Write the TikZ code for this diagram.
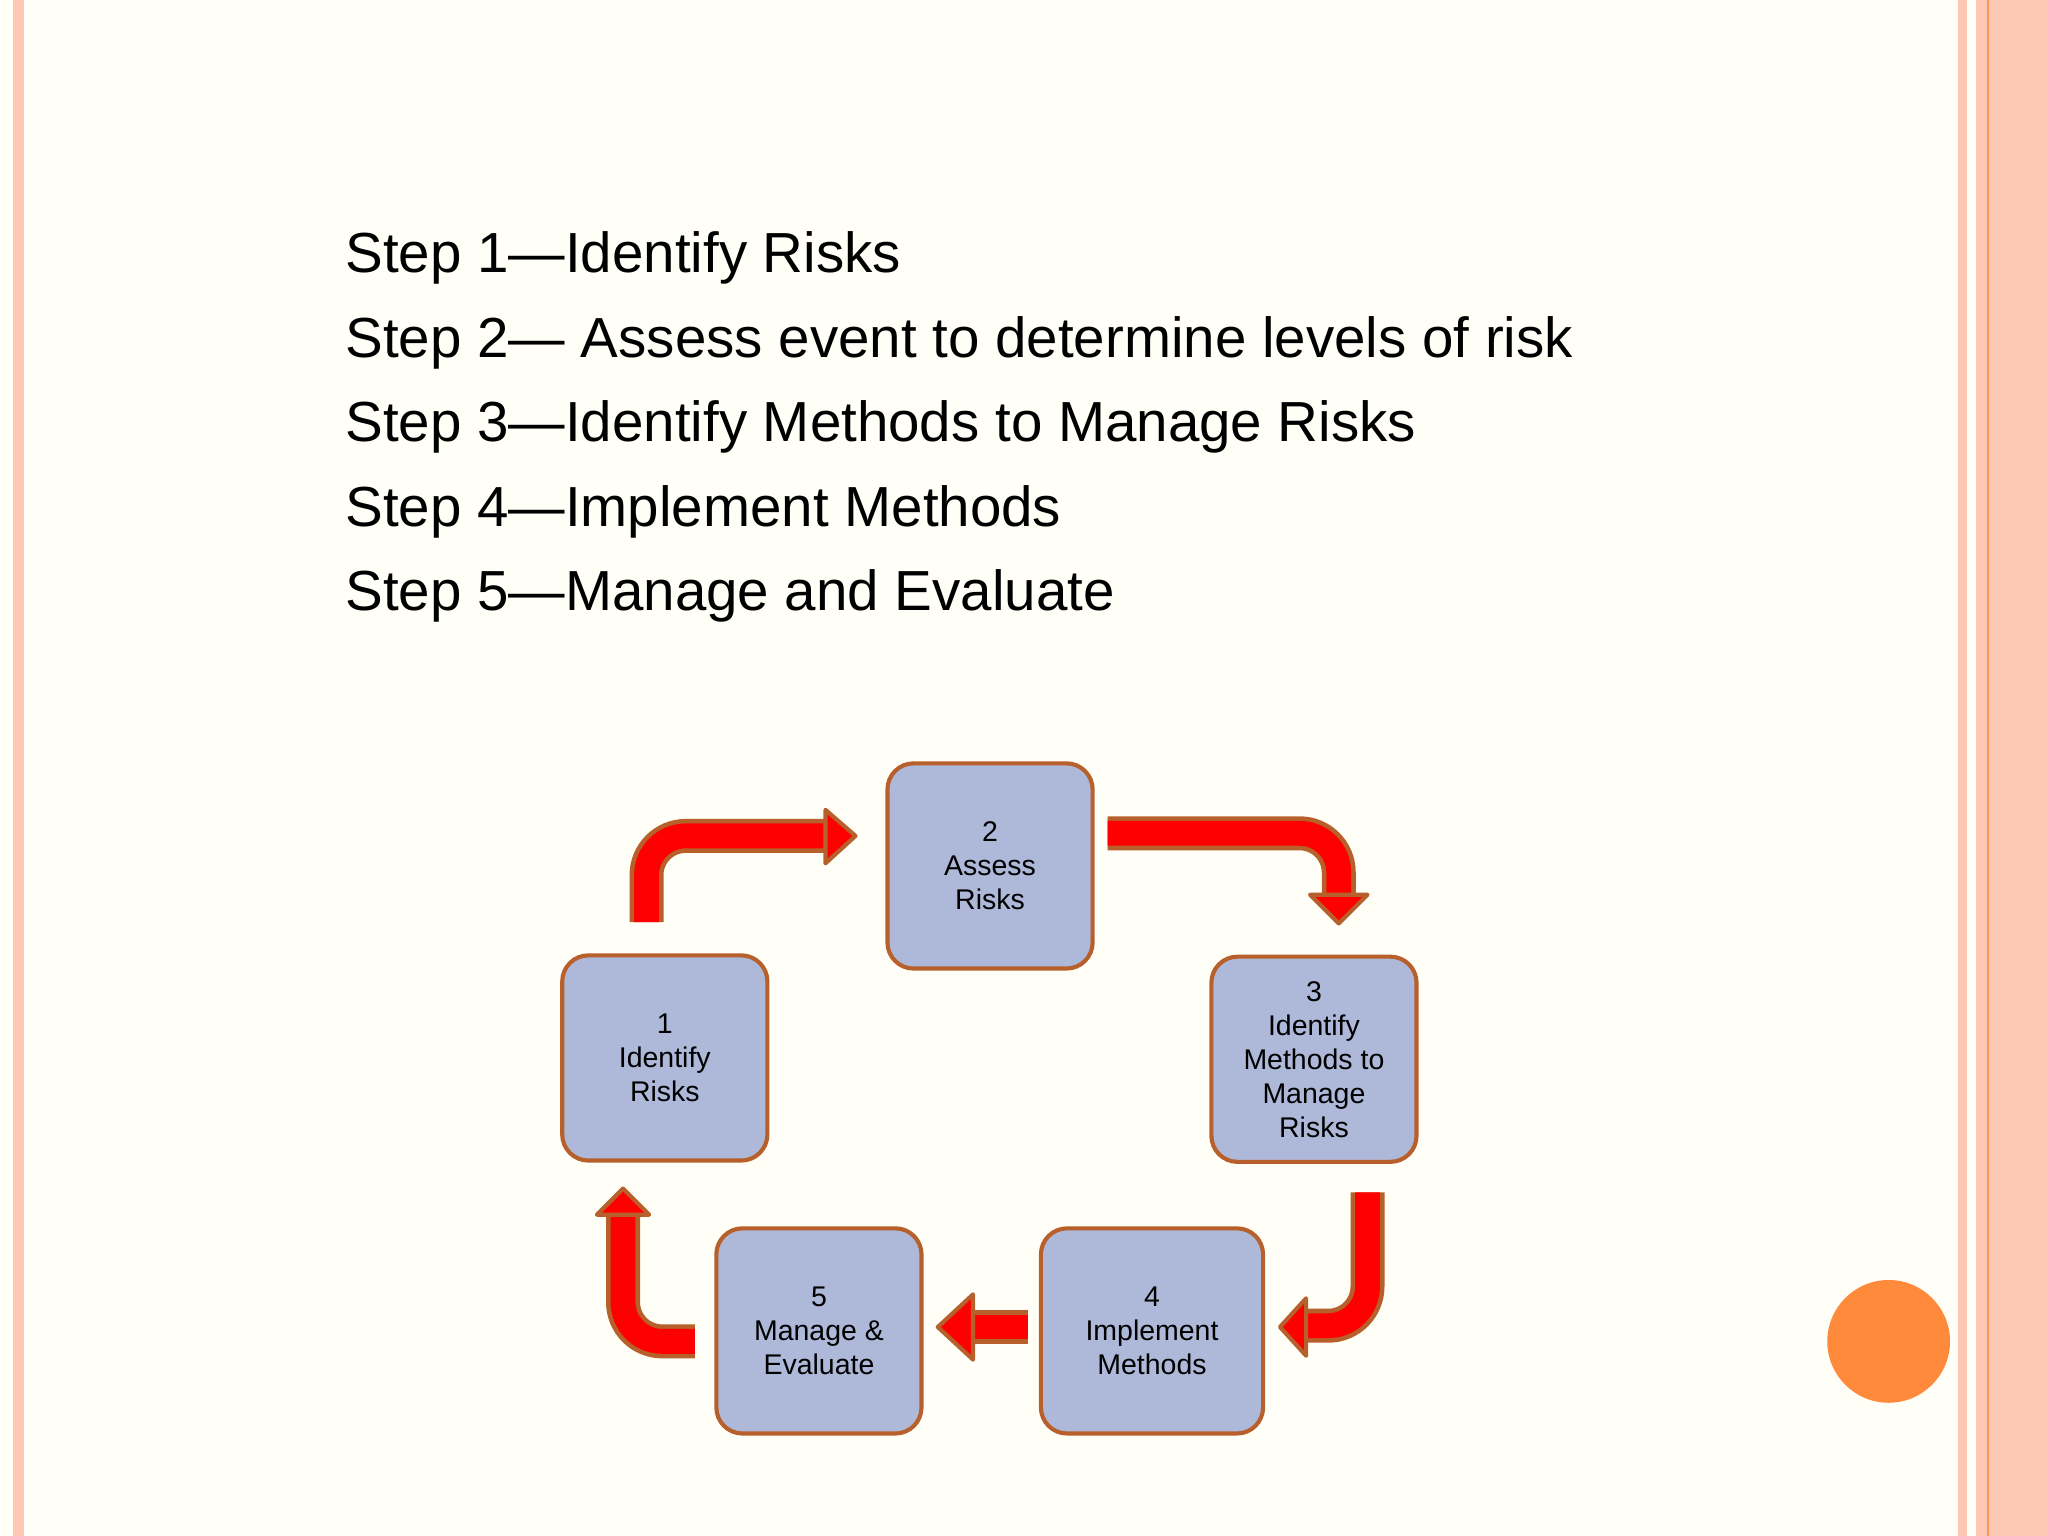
\documentclass[tikz,border=0pt]{standalone}
\usepackage{fontspec}
\setmainfont{Liberation Sans}
\definecolor{boxfill}{HTML}{AEB9D9}
\definecolor{boxline}{HTML}{B8602C}
\definecolor{pinkband}{HTML}{FCC8B4}
\definecolor{dotorange}{HTML}{FF8A3C}
\tikzset{
  stepbox/.style={draw=boxline, line width=0.9pt, fill=boxfill, rounded corners=0.2cm,
    minimum width=1.57cm, minimum height=1.57cm, align=center,
    font=\fontsize{6.2}{7.4}\selectfont},
  arrout/.style={draw=boxline, line width=0.26cm, rounded corners=0.3cm},
  arrin/.style={draw=red, line width=0.19cm, rounded corners=0.3cm},
  arrhead/.style={fill=red, draw=boxline, line width=0.9pt, line join=round}
}
\newcommand{\bentarrow}[2]{%
  \draw[arrout] #1; \draw[arrin] #1;
  \filldraw[arrhead] #2;}
\begin{document}
\begin{tikzpicture}[x=0.01cm,y=-0.01cm]
  \useasboundingbox (0,0) rectangle (1568,1176);
  \fill[white!97!yellow] (0,0) rectangle (1568,1176);
  % side bands
  \fill[pinkband] (10,0) rectangle (18,1176);
  \fill[pinkband] (1499,0) rectangle (1506,1176);
  \fill[pinkband] (1513,0) rectangle (1568,1176);
  \draw[dotorange!80!pinkband, line width=0.6pt] (1522,0) -- (1522,1176);
  \fill[dotorange] (1446,1027) circle (47);

  % step list
  \node[anchor=north west, align=left, font=\fontsize{12.3}{18.4}\selectfont] (list) at (252,165)
    {Step 1---Identify Risks\\
     Step 2--- Assess event to determine levels of risk\\
     Step 3---Identify Methods to Manage Risks\\
     Step 4---Implement Methods\\
     Step 5---Manage and Evaluate};

  % cycle boxes
  \node[stepbox] (s1) at (509,810) {1\\Identify\\Risks};
  \node[stepbox] (s2) at (758,663) {2\\Assess\\Risks};
  \node[stepbox] (s3) at (1006,811) {3\\Identify\\Methods to\\Manage\\Risks};
  \node[stepbox, minimum width=1.7cm] (s4) at (882,1019) {4\\Implement\\Methods};
  \node[stepbox] (s5) at (627,1019) {5\\Manage \&\\Evaluate};

  % bent arrows
  \bentarrow{(495,706) -- (495,640) -- (634,640)}{(632,620) -- (655,640) -- (632,661) -- cycle}
  \bentarrow{(848,638) -- (1025,638) -- (1025,687)}{(1003,685) -- (1047,685) -- (1025,707) -- cycle}
  \bentarrow{(1047,913) -- (1047,1015) -- (998,1015)}{(1000,994) -- (980,1016) -- (1000,1038) -- cycle}
  \bentarrow{(787,1016) -- (743,1016)}{(745,991) -- (718,1016) -- (745,1041) -- cycle}
  \bentarrow{(532,1027) -- (477,1027) -- (477,928)}{(457,930) -- (477,910) -- (497,930) -- cycle}
\end{tikzpicture}
\end{document}
